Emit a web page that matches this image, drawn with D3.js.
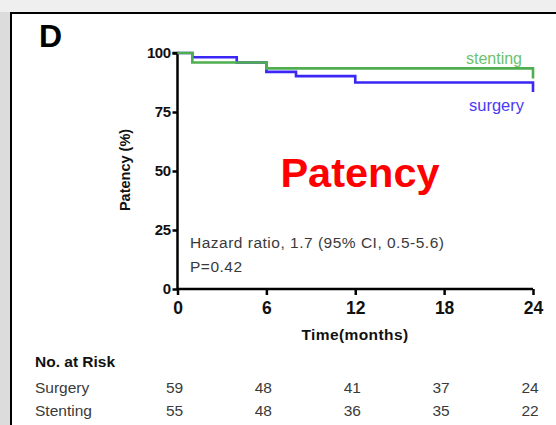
<!DOCTYPE html>
<html>
<head>
<meta charset="utf-8">
<script src="https://cdn.jsdelivr.net/npm/d3@7"></script>
<style>
  html, body { margin: 0; padding: 0; background: #ececec; }
  svg { display: block; font-family: "Liberation Sans", Arial, sans-serif; }
</style>
</head>
<body>
<svg id="chart" width="556" height="425"></svg>
<script>
// Follow-up time axis (months) and y-axis ticks
const monthTicks = [0, 6, 12, 18, 24];
const pctTicks = [0, 25, 50, 75, 100];

// Kaplan-Meier patency estimates (%), step changes at each event time
const surgeryTimes = [0, 1, 4, 6, 8, 12, 24];
const surgeryPatency = [100, 98.2, 96.0, 92.0, 90.2, 87.5, 83.5];
const stentingTimes = [0, 1, 6, 24];
const stentingPatency = [100, 96.0, 93.5, 89.2];

// Number at risk table
const riskGroups = ["Surgery", "Stenting"];
const surgeryAtRisk = [59, 48, 41, 37, 24];
const stentingAtRisk = [55, 48, 36, 35, 22];

const svg = d3.select("#chart");

// panel background with frame
svg.append("rect").attr("x", 0).attr("y", 0).attr("width", 11).attr("height", 425).attr("fill", "#dcdcdc");
svg.append("rect").attr("x", 0).attr("y", 0).attr("width", 556).attr("height", 12).attr("fill", "#efefef");
svg.append("rect")
  .attr("x", 11).attr("y", 13).attr("width", 560).attr("height", 430)
  .attr("fill", "#fff").attr("stroke", "#000").attr("stroke-width", 2);

svg.append("text").attr("x", 39).attr("y", 47)
  .attr("font-size", 32).attr("font-weight", "bold").text("D");

const x = d3.scaleLinear().domain([0, 24]).range([177.5, 533]);
const y = d3.scaleLinear().domain([0, 100]).range([289, 53]);

// axes
const yAxis = d3.axisLeft(y).tickValues(pctTicks).tickSize(5).tickPadding(2);
const gy = svg.append("g").attr("transform", `translate(${x(0)},0)`).call(yAxis);
gy.select(".domain").attr("d", `M-5,${y(100)}H0V${y(0)}`);
const xAxis = d3.axisBottom(x).tickValues(monthTicks).tickSize(6).tickPadding(7);
const gx = svg.append("g").attr("transform", `translate(0,${y(0)})`).call(xAxis);
gx.select(".domain").attr("d", `M${x(0)},0H${x(24)}`);

[gx, gy].forEach(g => {
  g.selectAll(".domain").attr("stroke", "#000").attr("stroke-width", 2.5).attr("fill", "none");
  g.selectAll(".tick line").attr("stroke", "#000").attr("stroke-width", 2.5);
  g.selectAll(".tick text").attr("fill", "#111").attr("font-weight", "bold")
    .attr("font-family", "'Liberation Sans', Arial, sans-serif");
});
gy.selectAll(".tick text").attr("font-size", 15).attr("letter-spacing", "-0.5px");
gx.selectAll(".tick text").attr("font-size", 17.5);

svg.append("text")
  .attr("transform", `translate(130,170) rotate(-90)`)
  .attr("text-anchor", "middle").attr("font-size", 14.5).attr("font-weight", "bold")
  .attr("fill", "#111").text("Patency (%)");

svg.append("text").attr("x", 355).attr("y", 340)
  .attr("text-anchor", "middle").attr("font-size", 15.5).attr("font-weight", "bold")
  .attr("letter-spacing", "0.4px").attr("fill", "#111").text("Time(months)");

// survival curves
const line = d3.line().x(d => x(d[0])).y(d => y(d[1])).curve(d3.curveStepAfter);
svg.append("path")
  .datum(d3.zip(surgeryTimes, surgeryPatency))
  .attr("d", line).attr("fill", "none").attr("stroke", "#3a26f5").attr("stroke-width", 2.6);
svg.append("path")
  .datum(d3.zip(stentingTimes, stentingPatency))
  .attr("d", line).attr("fill", "none").attr("stroke", "#4fae4f").attr("stroke-width", 2.6);

svg.append("text").attr("x", 522).attr("y", 64).attr("text-anchor", "end")
  .attr("font-size", 16).attr("fill", "#6cc26c").text("stenting");
svg.append("text").attr("x", 524).attr("y", 111).attr("text-anchor", "end")
  .attr("font-size", 16.5).attr("fill", "#4a3af5").text("surgery");

svg.append("text").attr("x", 360).attr("y", 187).attr("text-anchor", "middle")
  .attr("font-size", 41.5).attr("font-weight", "bold").attr("fill", "#ff0000").text("Patency");

svg.append("text").attr("x", 190).attr("y", 248)
  .attr("font-size", 15.5).attr("letter-spacing", "0.5px").attr("fill", "#3a3a3a")
  .text("Hazard ratio, 1.7 (95% CI, 0.5-5.6)");
svg.append("text").attr("x", 190).attr("y", 272)
  .attr("font-size", 15.5).attr("letter-spacing", "0.5px").attr("fill", "#3a3a3a").text("P=0.42");

// number at risk table
svg.append("text").attr("x", 35).attr("y", 367)
  .attr("font-size", 15.5).attr("font-weight", "bold").attr("fill", "#111").text("No. at Risk");
const rows = [surgeryAtRisk, stentingAtRisk];
const rowY = [393, 416];
rows.forEach((vals, i) => {
  svg.append("text").attr("x", 35).attr("y", rowY[i])
    .attr("font-size", 15.5).attr("fill", "#3a3a3a").text(riskGroups[i]);
  svg.selectAll(null).data(vals).enter().append("text")
    .attr("x", (d, j) => x(monthTicks[j]) - 3)
    .attr("y", rowY[i])
    .attr("text-anchor", "middle").attr("font-size", 15.5).attr("fill", "#3a3a3a")
    .text(d => d);
});
</script>
</body>
</html>
